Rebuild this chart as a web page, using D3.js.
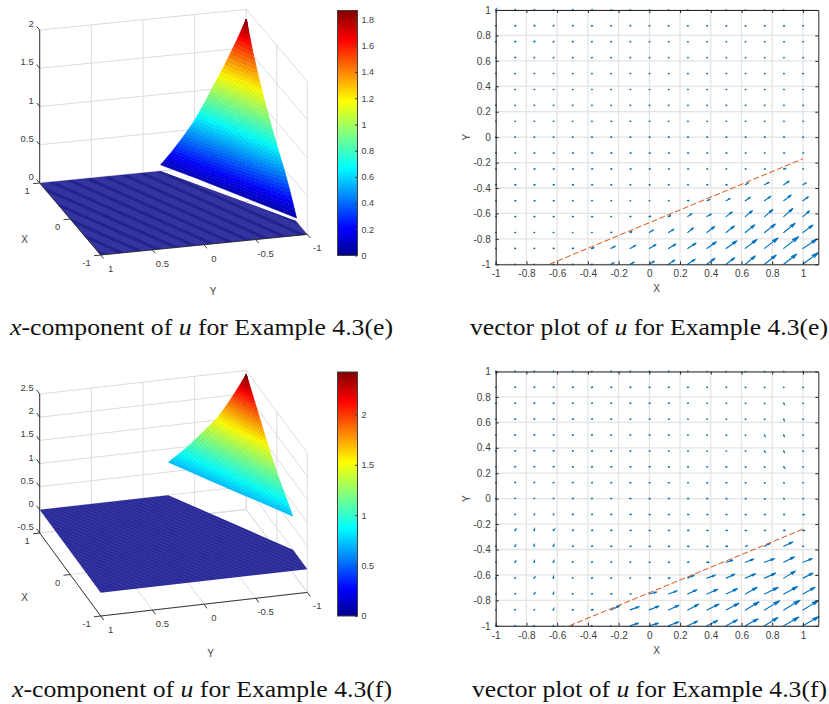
<!DOCTYPE html>
<html>
<head>
<meta charset="utf-8">
<script src="https://cdn.jsdelivr.net/npm/d3@7"></script>
<style>
  html, body { margin: 0; padding: 0; background: #fff; }
  svg { display: block; }
  text { font-family: "Liberation Sans", sans-serif; fill: #404040; }
  .caption text, text.caption { font-family: "Liberation Serif", serif; fill: #111; }
</style>
</head>
<body>
<div id="chart"></div>
<script>
// ---- data ----
var zTicksE = [0, 0.5, 1, 1.5, 2];
var zTicksF = [-0.5, 0, 0.5, 1, 1.5, 2, 2.5];
var xTicks3d = [-1, 0, 1];
var yTicks3d = [-1, -0.5, 0, 0.5, 1];
var barTicksE = [0, 0.2, 0.4, 0.6, 0.8, 1, 1.2, 1.4, 1.6, 1.8];
var barTicksF = [0, 0.5, 1, 1.5, 2];
var barMaxE = 1.87;
var barMaxF = 2.42;

// flat part of the surface, (X, Y) corners, sits at z = 0
var flatXE = [1, -1, -1, -0.62, 1];
var flatYE = [1, 1, -1, -1, -0.17];
var flatXF = [1, -1, -1, -0.53, 1];
var flatYF = [1, 1, -1, -1, -0.245];

// raised wedge: corners B, C along the dashed line, and the apex A
var wedgeXE = [1, -0.65, 1];
var wedgeYE = [-0.17, -1, -1];
var wedgeXF = [1, -0.53, 1];
var wedgeYF = [-0.245, -1, -1];

// wedge heights: rows go from the line BC up to the apex, columns from B to C
var wedgeZE = [
  [0.08, 0.08, 0.07, 0.06, 0.05],
  [0.23, 0.23, 0.24, 0.26, 0.29],
  [0.40, 0.41, 0.42, 0.46, 0.50],
  [0.58, 0.58, 0.60, 0.63, 0.67],
  [0.81, 0.80, 0.81, 0.83, 0.86],
  [1.06, 1.05, 1.05, 1.06, 1.07],
  [1.31, 1.30, 1.30, 1.30, 1.30],
  [1.58, 1.57, 1.57, 1.56, 1.56],
  [1.87, 1.87, 1.87, 1.87, 1.87]
];
var wedgeZF = [
  [0.71, 0.71, 0.71, 0.72, 0.72],
  [0.85, 0.86, 0.87, 0.88, 0.89],
  [1.00, 1.01, 1.03, 1.05, 1.06],
  [1.18, 1.19, 1.20, 1.22, 1.24],
  [1.36, 1.38, 1.41, 1.43, 1.46],
  [1.54, 1.58, 1.62, 1.66, 1.70],
  [1.80, 1.83, 1.87, 1.90, 1.94],
  [2.10, 2.12, 2.14, 2.16, 2.18],
  [2.41, 2.41, 2.41, 2.41, 2.41]
];

// quiver grid, and arrow components in thousandths. rows run y = 1 .. -1
var gridX = [-1, -0.875, -0.75, -0.625, -0.5, -0.375, -0.25, -0.125, 0, 0.125, 0.25, 0.375, 0.5, 0.625, 0.75, 0.875, 1];
var gridY = [1, 0.875, 0.75, 0.625, 0.5, 0.375, 0.25, 0.125, 0, -0.125, -0.25, -0.375, -0.5, -0.625, -0.75, -0.875, -1];
var quiverTicks = [-1, -0.8, -0.6, -0.4, -0.2, 0, 0.2, 0.4, 0.6, 0.8, 1];

var uE = [
  [2,3,3,2,3,3,1,1,1,1,1,1,1,1,1,1,1],
  [4,5,5,4,4,4,3,4,3,3,3,3,3,3,4,4,3],
  [4,5,5,3,4,3,3,3,3,3,3,3,3,3,3,4,3],
  [3,4,3,3,3,3,3,3,3,3,3,3,3,3,3,3,3],
  [3,3,3,3,3,3,3,3,3,3,3,3,3,3,3,3,3],
  [3,3,3,3,3,3,3,3,3,3,3,3,3,3,3,3,3],
  [3,3,3,3,3,3,3,3,3,3,3,3,3,3,3,3,3],
  [3,3,3,3,3,3,4,4,4,3,3,3,3,3,3,3,3],
  [2,3,3,3,3,4,4,4,4,4,4,4,4,4,4,4,3],
  [4,4,5,5,6,6,6,6,6,5,5,5,5,4,3,5,4],
  [4,4,6,6,6,6,6,6,6,5,5,4,3,4,5,12,3],
  [4,6,6,6,6,5,5,4,4,4,4,5,6,20,30,35,22],
  [4,6,6,6,5,4,4,3,2,4,6,20,26,32,40,48,35],
  [4,5,5,5,5,5,3,5,8,12,26,28,40,46,54,58,43],
  [3,4,3,3,2,3,6,10,26,35,37,50,54,61,70,74,65],
  [3,4,3,5,6,12,28,37,43,48,54,61,70,76,87,96,91],
  [2,2,2,2,3,3,20,26,33,41,48,52,56,65,76,85,100]
];
var vE = [
  [3,3,3,2,3,3,1,1,1,0,0,0,0,0,0,0,0],
  [2,2,4,3,3,1,1,3,1,0,1,0,0,0,0,0,1],
  [3,3,4,1,3,1,1,1,0,0,0,0,0,0,0,0,0],
  [1,3,1,1,1,1,1,1,0,0,0,0,0,0,0,0,0],
  [0,1,0,0,0,0,0,0,0,0,0,0,0,0,0,0,0],
  [0,0,0,0,0,0,0,0,0,0,0,0,0,0,0,0,0],
  [0,0,0,0,0,0,0,0,0,0,0,0,0,0,0,0,0],
  [0,0,0,0,0,0,0,0,0,0,0,0,0,0,0,0,0],
  [0,0,0,0,0,0,0,0,0,0,0,0,0,0,0,0,0],
  [0,0,0,0,0,0,0,0,0,0,0,0,0,0,0,0,0],
  [0,0,0,0,0,0,0,0,0,0,0,0,0,0,0,3,0],
  [0,0,0,0,0,0,0,0,0,0,0,0,0,15,20,30,16],
  [0,0,0,0,0,0,0,0,0,0,1,10,18,28,34,44,31],
  [0,0,0,0,0,0,0,1,2,8,24,20,37,47,55,63,45],
  [0,0,0,0,0,0,2,6,21,26,37,47,52,60,66,73,58],
  [0,0,0,0,1,5,18,24,31,34,42,52,60,70,81,92,73],
  [0,0,0,0,0,0,13,18,24,34,39,47,52,66,73,81,92]
];
var uF = [
  [3,2,2,2,2,2,2,2,2,2,2,1,1,1,1,1,1],
  [3,4,4,4,4,4,4,4,4,4,4,3,3,3,2,1,3],
  [4,4,4,4,4,4,4,4,4,4,3,3,3,3,2,1,3],
  [3,4,4,4,4,4,4,4,4,4,3,3,3,3,2,1,3],
  [3,4,4,4,4,4,4,4,4,4,3,3,3,2,1,1,3],
  [3,4,4,4,4,4,4,4,5,4,4,3,3,2,1,1,3],
  [3,4,4,5,5,5,5,5,5,5,4,4,4,3,2,2,3],
  [3,3,3,3,4,4,4,4,5,5,4,4,4,3,3,3,3],
  [3,3,3,3,4,4,4,5,5,5,5,5,5,4,4,4,3],
  [3,3,3,3,4,4,5,6,6,6,6,6,5,5,5,5,8],
  [3,3,1,3,5,5,6,6,6,6,7,7,7,7,6,8,10],
  [3,2,0,2,4,5,6,6,6,6,7,7,9,14,37,58,4],
  [3,2,1,2,4,4,4,3,5,6,7,12,43,54,65,70,61],
  [3,3,2,1,3,4,4,2,6,8,43,56,56,67,72,76,65],
  [2,3,2,1,3,4,6,6,48,56,59,70,74,76,89,89,78],
  [2,3,3,1,5,8,59,59,63,67,72,78,83,89,98,106,100],
  [1,1,1,1,1,1,1,54,59,67,65,70,74,83,87,98,104]
];
var vF = [
  [2,2,1,1,1,1,1,1,1,1,1,0,0,0,0,0,0],
  [2,3,3,3,2,2,2,2,1,1,1,1,1,0,0,0,0],
  [2,2,3,3,2,2,1,1,1,1,1,0,0,0,-1,-2,0],
  [1,2,3,2,2,1,1,1,1,0,0,0,0,-1,-2,-3,0],
  [1,2,3,3,2,2,1,1,0,0,0,0,-1,-1,-3,-3,0],
  [1,2,3,3,2,1,1,1,0,0,0,0,0,-1,-2,-3,0],
  [1,2,3,3,1,1,1,0,0,0,0,0,-1,-1,-2,-3,0],
  [1,3,3,2,2,1,1,1,0,0,0,-1,-1,-1,-2,-2,0],
  [1,2,2,2,2,1,1,1,0,0,0,0,-1,-1,-2,-2,0],
  [1,2,3,3,3,2,1,1,0,0,0,0,0,0,-1,-1,0],
  [1,4,5,4,3,2,2,1,0,0,0,0,0,0,0,0,0],
  [1,4,7,5,3,2,1,1,0,0,0,0,1,6,26,34,0],
  [1,3,5,5,3,2,2,1,0,0,0,0,16,24,29,42,29],
  [1,3,3,6,2,2,1,1,0,0,24,24,31,34,39,55,39],
  [1,3,3,4,2,2,1,0,16,26,34,37,42,52,52,58,52],
  [1,3,2,3,1,2,34,26,31,37,45,45,52,63,71,76,73],
  [1,1,1,1,0,0,0,21,21,31,37,42,47,55,65,68,73]
];

// dashed line in the quiver plots
var lineXE = [-0.65, 1];
var lineYE = [-1, -0.17];
var lineXF = [-0.52, 1];
var lineYF = [-1, -0.24];

var jetStops = [0, 0.11, 0.36, 0.63, 0.88, 1];
var jetColors = ["#00008f", "#0000ff", "#00ffff", "#ffff00", "#ff0000", "#800000"];

// ---- page ----
var width = 829, height = 704;
var svg = d3.select("#chart").append("svg").attr("width", width).attr("height", height);
var defs = svg.append("defs");

// moire of the surface mesh on the flat part, wider bands in (e) than in (f)
function flatPattern(id, size, dark) {
  var p = defs.append("pattern").attr("id", id)
    .attr("patternUnits", "userSpaceOnUse").attr("width", size).attr("height", size)
    .attr("patternTransform", "rotate(24)");
  p.append("rect").attr("width", size).attr("height", size).attr("fill", "#3535a5");
  p.append("rect").attr("width", size).attr("height", size / 3).attr("fill", dark);
}
flatPattern("flatMeshE", 9, "#24248f");
flatPattern("flatMeshF", 3, "#262694");

var dither = defs.append("pattern").attr("id", "wedgeMesh")
  .attr("patternUnits", "userSpaceOnUse").attr("width", 2.4).attr("height", 2.4)
  .attr("patternTransform", "rotate(30)");
dither.append("rect").attr("width", 1).attr("height", 1).attr("fill", "#000").attr("opacity", 0.16);

// the reference is a soft low-res scan, the arrows need a touch of blur
defs.append("filter").attr("id", "soft")
  .attr("x", "-5%").attr("y", "-5%").attr("width", "110%").attr("height", "110%")
  .append("feGaussianBlur").attr("stdDeviation", 0.3);

function jetScale(max) {
  return d3.scaleLinear().domain(jetStops.map(d => d * max)).range(jetColors);
}

var gradId = 0;

function draw3d(o) {
  var g = svg.append("g");

  var xToX = d3.scaleLinear().domain([-1, 1]).range([o.xVec[0], -o.xVec[0]]);
  var xToY = d3.scaleLinear().domain([-1, 1]).range([o.xVec[1], -o.xVec[1]]);
  var yToX = d3.scaleLinear().domain([-1, 1]).range([o.yVec[0], -o.yVec[0]]);
  var yToY = d3.scaleLinear().domain([-1, 1]).range([o.yVec[1], -o.yVec[1]]);
  var zToY = d3.scaleLinear().domain(d3.extent(o.zTicks)).range([0, -o.zLen]);
  var zMin = o.zTicks[0], zMax = o.zTicks[o.zTicks.length - 1];

  function P(x, y, z) {
    return [o.cx + xToX(x) + yToX(y), o.cy + xToY(x) + yToY(y) + zToY(z)];
  }
  function seg(a, b, cls) {
    g.append("line").attr("x1", a[0]).attr("y1", a[1]).attr("x2", b[0]).attr("y2", b[1])
      .attr("stroke", cls === "axis" ? "#262626" : "#dcdcdc")
      .attr("stroke-width", cls === "axis" ? 0.9 : 1);
  }

  // back walls and floor grid
  o.zTicks.forEach(z => {
    seg(P(1, 1, z), P(1, -1, z));
    seg(P(1, -1, z), P(-1, -1, z));
  });
  yTicks3d.forEach(y => {
    seg(P(1, y, zMin), P(1, y, zMax));
    seg(P(1, y, zMin), P(-1, y, zMin));
  });
  xTicks3d.forEach(x => {
    seg(P(x, -1, zMin), P(x, -1, zMax));
    seg(P(x, 1, zMin), P(x, -1, zMin));
  });

  // flat part
  var flatPts = o.flatX.map((x, i) => P(x, o.flatY[i], 0).join(",")).join(" ");
  g.append("polygon").attr("points", flatPts).attr("fill", "url(#" + o.flatFill + ")");
  g.append("polygon").attr("points", flatPts).attr("fill", "url(#wedgeMesh)");

  // wedge: the table is shaded like matlab's surf, small facets between its values
  var color = jetScale(o.barMax);
  var A = [o.wedgeX[2], o.wedgeY[2]], B = [o.wedgeX[0], o.wedgeY[0]], C = [o.wedgeX[1], o.wedgeY[1]];
  var rows = o.wedgeZ.length - 1, cols = o.wedgeZ[0].length - 1, sub = 6;
  function heightAt(r, c) {
    var r0 = Math.min(Math.floor(r), rows - 1), c0 = Math.min(Math.floor(c), cols - 1);
    var top = d3.interpolateNumber(o.wedgeZ[r0][c0], o.wedgeZ[r0][c0 + 1])(c - c0);
    var bot = d3.interpolateNumber(o.wedgeZ[r0 + 1][c0], o.wedgeZ[r0 + 1][c0 + 1])(c - c0);
    return top + (bot - top) * (r - r0);
  }
  function wedgePt(r, c) {
    var t = r / rows, s = c / cols;
    var bx = B[0] + (C[0] - B[0]) * s, by = B[1] + (C[1] - B[1]) * s;
    return P(bx + (A[0] - bx) * t, by + (A[1] - by) * t, heightAt(r, c));
  }
  var facets = [];
  for (var i = 0; i < rows * sub; i++) {
    for (var j = 0; j < cols * sub; j++) {
      facets.push({ r: i / sub, c: j / sub, step: 1 / sub });
    }
  }
  g.append("g").selectAll("polygon").data(facets).join("polygon")
    .attr("points", d => [
      wedgePt(d.r, d.c), wedgePt(d.r, d.c + d.step),
      wedgePt(d.r + d.step, d.c + d.step), wedgePt(d.r + d.step, d.c)
    ].map(p => p.join(",")).join(" "))
    .attr("fill", d => color(heightAt(d.r + d.step / 2, d.c + d.step / 2)))
    .attr("stroke", d => color(heightAt(d.r + d.step / 2, d.c + d.step / 2)))
    .attr("stroke-width", 0.5);
  var outline = [];
  d3.range(0, cols + 1 / sub, 1 / sub).forEach(c => outline.push(wedgePt(0, Math.min(c, cols))));
  d3.range(0, rows + 1 / sub, 1 / sub).forEach(r => outline.push(wedgePt(Math.min(r, rows), cols)));
  d3.range(rows, -1 / sub, -1 / sub).forEach(r => outline.push(wedgePt(Math.max(r, 0), 0)));
  g.append("polygon").attr("points", outline.map(p => p.join(",")).join(" "))
    .attr("fill", "url(#wedgeMesh)");

  // axes
  seg(P(1, 1, zMin), P(1, 1, zMax), "axis");
  seg(P(1, 1, zMin), P(-1, 1, zMin), "axis");
  seg(P(-1, 1, zMin), P(-1, -1, zMin), "axis");

  o.zTicks.forEach(z => {
    seg(P(1, 1, z), P(1.1, 1, z), "axis");
    var p = P(1, 1, z);
    g.append("text").attr("x", p[0] - 6).attr("y", p[1] - 3).attr("text-anchor", "end")
      .attr("font-size", 9.5).text(z);
  });
  xTicks3d.forEach(x => {
    seg(P(x, 1, zMin), P(x, 1.065, zMin), "axis");
    var p = P(x, 1, zMin);
    g.append("text").attr("x", p[0] - 10).attr("y", p[1] + 11).attr("text-anchor", "end")
      .attr("font-size", 9.5).text(x);
  });
  yTicks3d.forEach(y => {
    seg(P(-1, y, zMin), P(-1.1, y, zMin), "axis");
    var p = P(-1, y, zMin);
    g.append("text").attr("x", p[0] + 10).attr("y", p[1] + 17).attr("text-anchor", "middle")
      .attr("font-size", 9.5).text(y);
  });

  g.append("text").attr("x", o.xLabel[0]).attr("y", o.xLabel[1]).attr("text-anchor", "middle")
    .attr("font-size", 10).text("X");
  g.append("text").attr("x", o.yLabel[0]).attr("y", o.yLabel[1]).attr("text-anchor", "middle")
    .attr("font-size", 10).text("Y");

  // colorbar
  var bar = o.bar;
  var id = "bar" + (gradId++);
  var grad = defs.append("linearGradient").attr("id", id)
    .attr("x1", 0).attr("y1", 1).attr("x2", 0).attr("y2", 0);
  jetStops.forEach((s, i) => grad.append("stop").attr("offset", s).attr("stop-color", jetColors[i]));
  svg.append("rect").attr("x", bar.x).attr("y", bar.top).attr("width", bar.w).attr("height", bar.bottom - bar.top)
    .attr("fill", "url(#" + id + ")").attr("stroke", "#404040").attr("stroke-width", 1);
  var barScale = d3.scaleLinear().domain([0, o.barMax]).range([bar.bottom, bar.top]);
  var barAxis = svg.append("g").attr("transform", "translate(" + (bar.x + bar.w) + ",0)")
    .call(d3.axisRight(barScale).tickValues(o.barTicks).tickFormat(d => d).tickSizeInner(-2.5).tickSizeOuter(0).tickPadding(4));
  barAxis.select(".domain").remove();
  barAxis.selectAll("line").attr("stroke", "#404040");
  barAxis.selectAll("text").attr("font-size", 9).attr("font-family", null);
}

function drawQuiver(o) {
  var g = svg.append("g");
  var x = d3.scaleLinear().domain([-1, 1.1]).range([o.left, o.right]);
  var y = d3.scaleLinear().domain([-1, 1]).range([o.bottom, o.top]);

  // grid
  quiverTicks.forEach(t => {
    g.append("line").attr("x1", x(t)).attr("x2", x(t)).attr("y1", o.top).attr("y2", o.bottom)
      .attr("stroke", "#e4e4e4").attr("stroke-width", 1.3);
    g.append("line").attr("y1", y(t)).attr("y2", y(t)).attr("x1", o.left).attr("x2", o.right)
      .attr("stroke", "#e4e4e4").attr("stroke-width", 1.3);
  });

  // arrows, head barbs as matlab quiver does them
  var alpha = 0.33, beta = 0.25;
  var arrows = [];
  gridY.forEach((gy, r) => gridX.forEach((gx, c) => {
    arrows.push({ x: gx, y: gy, u: o.u[r][c] / 1000, v: o.v[r][c] / 1000 });
  }));
  g.append("g").attr("filter", "url(#soft)").selectAll("path").data(arrows).join("path")
    .attr("fill", "none").attr("stroke", "#0072bd")
    .attr("stroke-width", d => Math.hypot(d.u, d.v) < 0.015 ? 1.6 : 1.15)
    .attr("stroke-linecap", "round")
    .attr("d", d => {
      var tx = d.x + d.u, ty = d.y + d.v;
      var p = d3.path();
      p.moveTo(x(d.x), y(d.y));
      p.lineTo(x(tx), y(ty));
      p.moveTo(x(tx - alpha * (d.u + beta * d.v)), y(ty - alpha * (d.v - beta * d.u)));
      p.lineTo(x(tx), y(ty));
      p.lineTo(x(tx - alpha * (d.u - beta * d.v)), y(ty - alpha * (d.v + beta * d.u)));
      return p.toString();
    });

  // dashed line
  var line = d3.line().x(d => x(d[0])).y(d => y(d[1]));
  g.append("path").attr("d", line(o.lineX.map((d, i) => [d, o.lineY[i]])))
    .attr("fill", "none").attr("stroke", "#d95319").attr("stroke-width", 1)
    .attr("stroke-dasharray", "6,2.5");

  // box and ticks on all four sides
  function style(a) {
    a.selectAll(".domain").attr("stroke", "#262626").attr("stroke-width", 1);
    a.selectAll(".tick line").attr("stroke", "#262626");
    a.selectAll("text").attr("font-size", 10).attr("font-family", null);
  }
  g.append("g").attr("transform", "translate(0," + o.bottom + ")")
    .call(d3.axisBottom(x).tickValues(quiverTicks).tickFormat(d => d).tickSizeInner(-3).tickSizeOuter(0).tickPadding(6)).call(style);
  g.append("g").attr("transform", "translate(" + o.left + ",0)")
    .call(d3.axisLeft(y).tickValues(quiverTicks).tickFormat(d => d).tickSizeInner(-3).tickSizeOuter(0).tickPadding(5)).call(style);
  g.append("g").attr("transform", "translate(0," + o.top + ")")
    .call(d3.axisTop(x).tickValues(quiverTicks).tickFormat("").tickSizeInner(-3).tickSizeOuter(0)).call(style);
  g.append("g").attr("transform", "translate(" + o.right + ",0)")
    .call(d3.axisRight(y).tickValues(quiverTicks).tickFormat("").tickSizeInner(-3).tickSizeOuter(0)).call(style);

  g.append("text").attr("x", (o.left + o.right) / 2 - 0.5).attr("y", o.bottom + 28).attr("text-anchor", "middle")
    .attr("font-size", 10).text("X");
  g.append("text").attr("transform", "translate(" + (o.left - 26) + "," + ((o.top + o.bottom) / 2) + ") rotate(-90)")
    .attr("text-anchor", "middle").attr("font-size", 10).text("Y");
}

function caption(xPos, yPos, len, parts) {
  var t = svg.append("text").attr("class", "caption").attr("x", xPos).attr("y", yPos)
    .attr("font-size", 23).attr("textLength", len).attr("lengthAdjust", "spacingAndGlyphs");
  parts.forEach(p => {
    t.append("tspan").attr("font-style", p[1] ? "italic" : "normal").text(p[0]);
  });
}

draw3d({
  cx: 173.5, cy: 208.7, xVec: [30.5, 36], yVec: [103.3, -10.3], zLen: 153,
  zTicks: zTicksE, barMax: barMaxE, barTicks: barTicksE, flatFill: "flatMeshE",
  flatX: flatXE, flatY: flatYE, wedgeX: wedgeXE, wedgeY: wedgeYE, wedgeZ: wedgeZE,
  xLabel: [24.5, 243], yLabel: [213, 295],
  bar: { x: 337.5, w: 20, top: 10.5, bottom: 255.5 }
});
draw3d({
  cx: 173.5, cy: 562.7, xVec: [30.5, 41.5], yVec: [103.3, -11.8], zLen: 139,
  zTicks: zTicksF, barMax: barMaxF, barTicks: barTicksF, flatFill: "flatMeshF",
  flatX: flatXF, flatY: flatYF, wedgeX: wedgeXF, wedgeY: wedgeYF, wedgeZ: wedgeZF,
  xLabel: [24.5, 601], yLabel: [210.5, 657],
  bar: { x: 337.5, w: 20, top: 372, bottom: 616 }
});

drawQuiver({ left: 495.7, right: 818.3, top: 10, bottom: 264.3, u: uE, v: vE, lineX: lineXE, lineY: lineYE });
drawQuiver({ left: 495.7, right: 818.3, top: 371.5, bottom: 625.8, u: uF, v: vF, lineX: lineXF, lineY: lineYF });

caption(10, 335, 383, [["x", true], ["-component of ", false], ["u", true], [" for Example 4.3(e)", false]]);
caption(470, 335, 358, [["vector plot of ", false], ["u", true], [" for Example 4.3(e)", false]]);
caption(12, 697, 380, [["x", true], ["-component of ", false], ["u", true], [" for Example 4.3(f)", false]]);
caption(472, 697, 355, [["vector plot of ", false], ["u", true], [" for Example 4.3(f)", false]]);
</script>
</body>
</html>
